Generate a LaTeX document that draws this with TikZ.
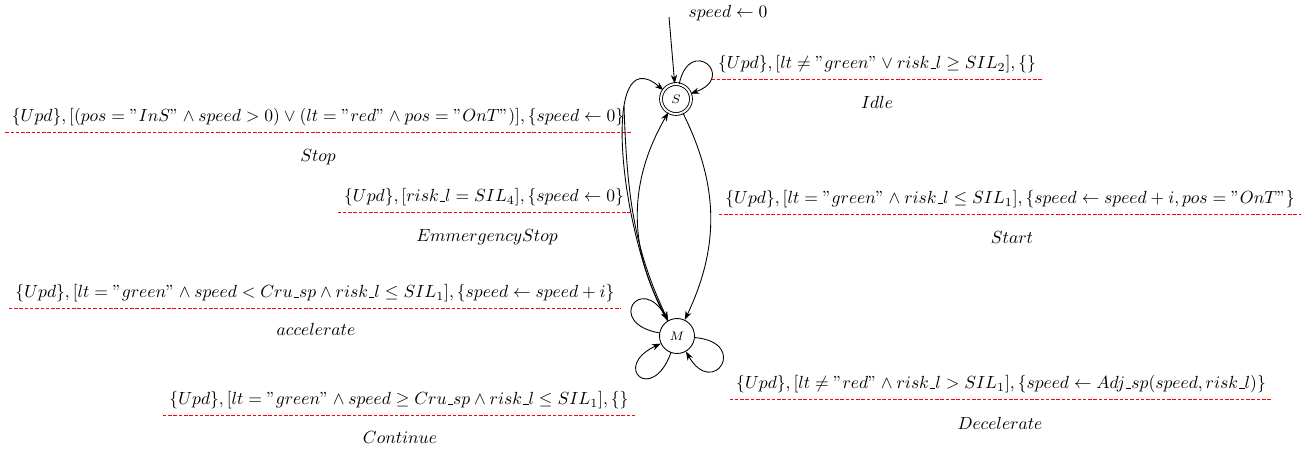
\documentclass[tikz,border=0pt]{standalone}
\usetikzlibrary{arrows.meta}
\newcommand\us{\mbox{\kern.06em\vbox{\hrule width.3em}}}
\begin{document}
\begin{tikzpicture}[x=0.02cm,y=-0.02cm,
  every path/.style={line width=0.5pt},
  arr/.style={-{Stealth[length=5pt,width=3.6pt]}},
  statenode/.style={circle,draw,minimum size=0.66cm,inner sep=0pt,font=\scriptsize},
  guard/.style={inner sep=3.5pt,font=\fontsize{10.1}{12}\selectfont},
  lname/.style={inner sep=1pt},
  sep/.style={draw=red,color=red,dash pattern=on 2pt off 1pt,line width=0.95pt}]
\useasboundingbox (0,0) rectangle (1308,450);

% states
\node[statenode,double,double distance=1.1pt,minimum size=0.6cm] (S) at (676,99) {$S$};
\node[statenode,minimum size=0.7cm] (M) at (677,336) {$M$};

% initial
\coordinate (init) at (669,17);
\node (initlbl) at (728,13) {$speed \leftarrow 0$};
\draw[arr] (init) -- (S);

% labels
\node[guard] (gi) at (877,64) {$\{Upd\}, [lt \neq "green" \vee risk\us l \geq SIL_2], \{\}$};
\node[lname] (ni) at (877,102) {$Idle$};
\draw[sep] (gi.south west) -- (gi.south east);

\node[guard] (gs) at (318,117) {$\{Upd\}, [(pos = "InS" \wedge speed > 0) \vee (lt = "red" \wedge pos = "OnT")], \{speed \leftarrow 0\}$};
\node[lname] (ns) at (318,157) {$Stop$};
\draw[sep] (gs.south west) -- (gs.south east);

\node[guard] (ge) at (484,197) {$\{Upd\}, [risk\us l = SIL_4], \{speed \leftarrow 0\}$};
\node[lname] (ne) at (487,237) {$EmmergencyStop$};
\draw[sep] (ge.south west) -- (ge.south east);

\node[guard] (gt) at (1010,199) {$\{Upd\}, [lt = "green" \wedge risk\us l \leq SIL_1], \{speed \leftarrow speed + i, pos = "OnT"\}$};
\node[lname] (nt) at (1012,237) {$Start$};
\draw[sep] (gt.south west) -- (gt.south east);

\node[guard] (ga) at (315,293) {$\{Upd\}, [lt = "green" \wedge speed < Cru\us sp \wedge risk\us l \leq SIL_1], \{speed \leftarrow speed + i\}$};
\node[lname] (na) at (316,329) {$accelerate$};
\draw[sep] (ga.south west) -- (ga.south east);

\node[guard] (gc) at (399,400) {$\{Upd\}, [lt = "green" \wedge speed \geq Cru\us sp \wedge risk\us l \leq SIL_1], \{\}$};
\node[lname] (nc) at (400,437) {$Continue$};
\draw[sep] (gc.south west) -- (gc.south east);

\node[guard] (gd) at (1001,384) {$\{Upd\}, [lt \neq "red" \wedge risk\us l > SIL_1], \{speed \leftarrow Adj\us sp(speed, risk\us l)\}$};
\node[lname] (nd) at (1000,423) {$Decelerate$};
\draw[sep] (gd.south west) -- (gd.south east);

% edges between S and M
\draw[arr] (S) to[bend left=26] (M);
\draw[arr] (M) to[bend left=30] (S);
\draw[arr] (M.122) .. controls +(-47,-80) and +(-65,-55) .. (S.145);
\coordinate (twin) at (624,106);
\draw[arr] (twin) .. controls +(3,94) and +(-33,-70) .. (M.120);

% loops
\draw[arr] (S) to[out=78,in=20,distance=1cm] (S);
\draw[arr] (M) to[out=170,in=120,distance=1.1cm] (M);
\draw[arr] (M) to[out=-110,in=205,distance=1.1cm] (M);
\draw[arr] (M) to[out=-5,in=-60,distance=1.1cm] (M);
\end{tikzpicture}
\end{document}
